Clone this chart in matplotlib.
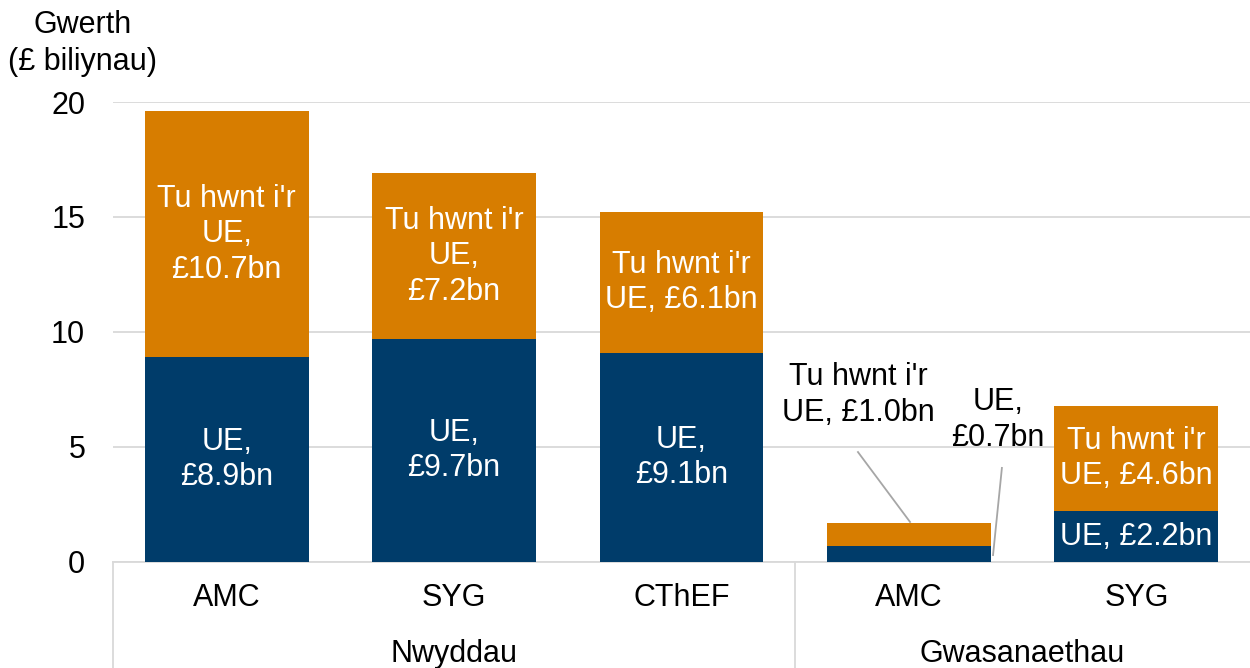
import numpy as np
import matplotlib.pyplot as plt

plt.rcParams['font.family'] = ['Liberation Sans', 'DejaVu Sans']

# data
categories = ["AMC", "SYG", "CThEF", "AMC", "SYG"]
groups = ["Nwyddau", "Gwasanaethau"]
group_sizes = [3, 2]
eu_values = [8.9, 9.7, 9.1, 0.7, 2.2]
non_eu_values = [10.7, 7.2, 6.1, 1.0, 4.6]
eu_labels = ["UE,\n£8.9bn", "UE,\n£9.7bn", "UE,\n£9.1bn", "UE,\n£0.7bn", "UE, £2.2bn"]
non_eu_labels = ["Tu hwnt i'r\nUE,\n£10.7bn", "Tu hwnt i'r\nUE,\n£7.2bn",
                 "Tu hwnt i'r\nUE, £6.1bn", "Tu hwnt i'r\nUE, £1.0bn",
                 "Tu hwnt i'r\nUE, £4.6bn"]
yticks = [0, 5, 10, 15, 20]

NAVY = "#003C6A"
ORANGE = "#D77D00"
GRID = "#D9D9D9"
FS = 22
LS = 1.24

fig = plt.figure(figsize=(12.5, 6.68), dpi=100)
ax = fig.add_axes([0.0904, 0.1587, 0.9096, 0.6886])

x = np.arange(len(categories))
eu = np.array(eu_values)
neu = np.array(non_eu_values)
ax.bar(x, eu, width=0.72, color=NAVY, zorder=3)
ax.bar(x, neu, width=0.72, bottom=eu, color=ORANGE, zorder=3)

ax.set_xlim(-0.5, len(categories) - 0.5)
ax.set_ylim(0, 20)
ax.set_yticks(yticks)
ax.set_yticklabels([str(t) for t in yticks], fontsize=FS)
ax.tick_params(axis='y', length=0, pad=20)
ax.set_xticks([])
ax.yaxis.grid(True, color=GRID, linewidth=1.3, zorder=0)
for s in ["top", "right", "left"]:
    ax.spines[s].set_visible(False)
ax.spines["bottom"].set_color(GRID)
ax.spines["bottom"].set_linewidth(1.3)

# labels inside bars (small services AMC bar labelled outside)
for i in range(len(categories)):
    if i == 3:
        continue
    ax.text(x[i], eu[i] / 2, eu_labels[i], ha='center', va='center',
            color='white', fontsize=FS, zorder=4, linespacing=LS)
    ax.text(x[i], eu[i] + neu[i] / 2, non_eu_labels[i], ha='center', va='center',
            color='white', fontsize=FS, zorder=4, linespacing=LS)

# callouts for AMC services
ax.text(2.776, 7.26, non_eu_labels[3], ha='center', va='center', fontsize=FS,
        linespacing=LS)
ax.plot([2.776, 3.005], [4.78, 1.74], color="#A6A6A6", linewidth=1.3, zorder=5)
ax.text(3.39, 6.17, eu_labels[3], ha='center', va='center', fontsize=FS,
        linespacing=LS)
ax.plot([3.409, 3.37], [4.09, 0.3], color="#A6A6A6", linewidth=1.3, zorder=5)

# category axis: labels and group separators
trans = ax.get_xaxis_transform()
for i, c in enumerate(categories):
    ax.text(x[i], -0.078, c, transform=trans, ha='center', va='center', fontsize=FS)
start = 0
for g, n in zip(groups, group_sizes):
    mid = start + (n - 1) / 2
    ax.text(mid, -0.2, g, transform=trans, ha='center', va='center', fontsize=FS)
    ax.plot([start - 0.5, start - 0.5], [0, -0.24], transform=trans, color=GRID,
            linewidth=1.3, clip_on=False)
    start += n

# y-axis title
fig.text(0.0664, 0.962, "Gwerth", ha='center', va='center', fontsize=FS)
fig.text(0.0664, 0.907, "(£ biliynau)", ha='center', va='center', fontsize=FS)

fig.savefig("out.png", dpi=100)
